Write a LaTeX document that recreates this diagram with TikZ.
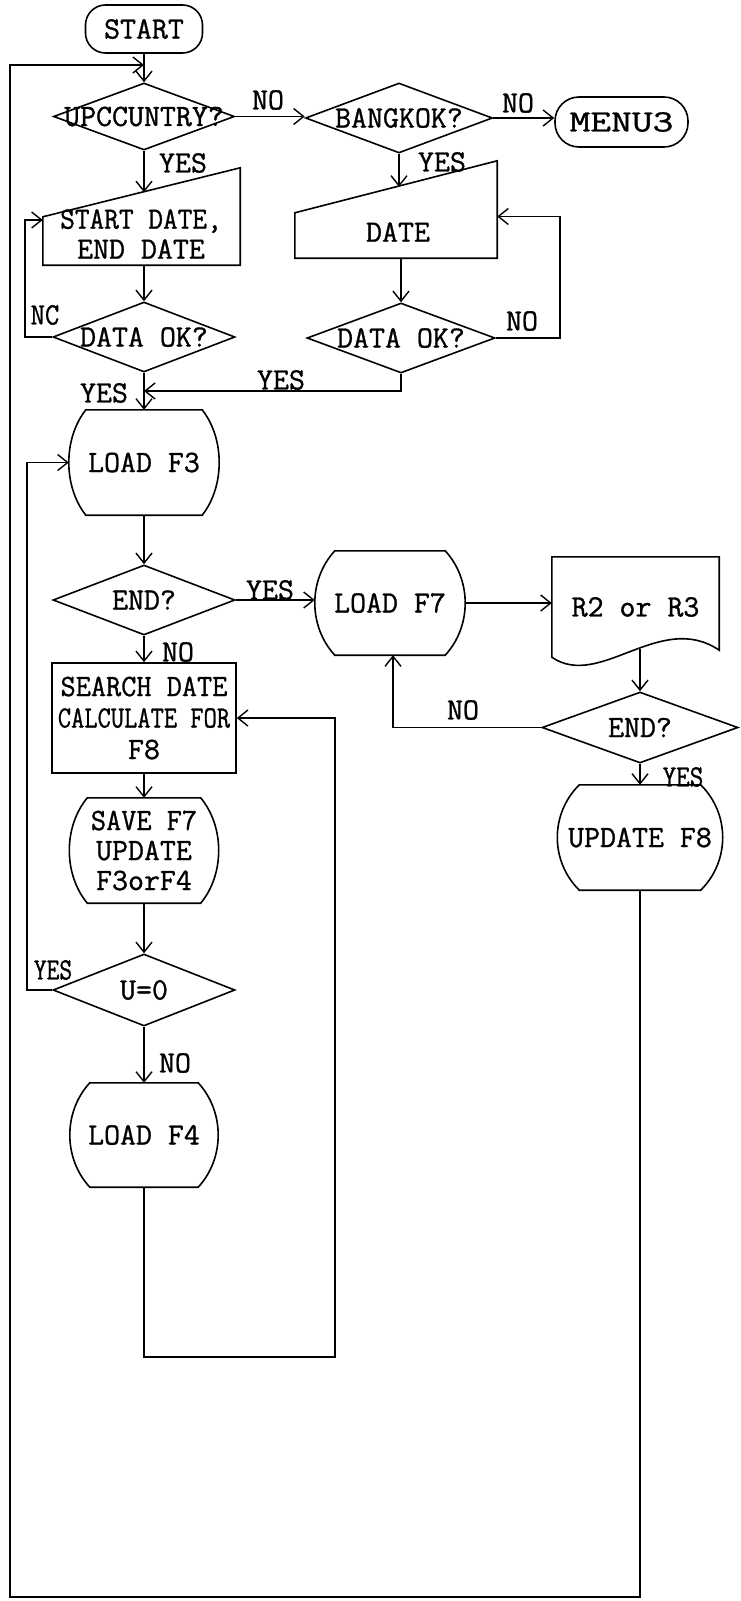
\documentclass[tikz,border=0pt]{standalone}
\usepackage{fontspec}
\newfontfamily\twfont{lmmono12-regular.otf}[FakeBold=1.0]
\usetikzlibrary{arrows.meta,shapes.geometric,calc}
\newcommand{\barrelshape}[3]{%
  \draw[ln] ([xshift=#2pt]#1.north west) -- ([xshift=-#2pt]#1.north east)
    .. controls +({4*#2/3},#3) and +({4*#2/3},-#3) .. ([xshift=-#2pt]#1.south east)
    -- ([xshift=#2pt]#1.south west)
    .. controls +({-4*#2/3},-#3) and +({-4*#2/3},#3) .. ([xshift=#2pt]#1.north west) -- cycle;}
\newcommand{\maninshape}[2]{%
  \draw[ln] (#1.south west) -- (#1.south east) -- (#1.north east) -- ([yshift=-#2pt]#1.north west) -- cycle;}
\begin{document}
\begin{tikzpicture}[x=1pt,y=-1pt,
  font=\twfont\fontsize{31}{30}\selectfont,
  ln/.style={draw=black,line width=1.6pt},
  arr/.style={ln,-{Straight Barb[length=10pt,width=16pt,line width=1.4pt]}},
  dia/.style={shape=diamond,ln,inner sep=0pt},
  term/.style={ln,rounded corners=20pt,inner sep=0pt},
  box/.style={ln,inner sep=0pt,align=center},
  ghost/.style={inner sep=0pt,align=center},
  lbl/.style={inner sep=0pt,align=center}]
\useasboundingbox (0,0) rectangle (741,1601);
\fill[white] (0,0) rectangle (741,1601);

% ---- nodes ----
\node[term,minimum width=117pt,minimum height=48pt] (start) at (144,29) {START};
\node[dia,minimum width=181pt,minimum height=67pt,label={center:{UPCCUNTRY?}}] (ucc) at (144,116.5) {};
\node[dia,minimum width=187pt,minimum height=70pt,label={center:{BANGKOK?}}] (bkk) at (399,118) {};
\node[term,rounded corners=24pt,minimum width=133pt,minimum height=50pt] (menu) at (621.5,122) {\scalebox{1.3}[1]{MENU3}};

\node[ghost,minimum width=197pt,minimum height=97pt] (sd) at (141.5,216.5) {};
\node[lbl] (sdt) at (141,234) {\scalebox{0.92}[1]{START DATE,}\\END DATE};
\node[ghost,minimum width=202pt,minimum height=97pt] (date) at (396,209.5) {};
\node[lbl] (datet) at (398,232) {DATE};

\node[dia,minimum width=182pt,minimum height=70pt,label={center:{DATA OK?}}] (ok1) at (144,337) {};
\node[dia,minimum width=188pt,minimum height=70pt,label={center:{DATA OK?}}] (ok2) at (401,338) {};

\node[ghost,minimum width=150pt,minimum height=105pt] (lf3) at (144,462.5) {LOAD F3};
\node[dia,minimum width=182pt,minimum height=70pt,label={center:{END?}}] (end1) at (144,600) {};
\node[box,minimum width=184pt,minimum height=110pt,font=\twfont\fontsize{31}{31.5}\selectfont] (srch) at (144,718)
  {\scalebox{0.95}[1]{SEARCH DATE}\\\scalebox{0.83}[1]{CALCULATE FOR}\\F8};
\node[ghost,minimum width=149pt,minimum height=105pt] (sv) at (144,850.5) {\scalebox{0.95}[1]{SAVE F7}\\UPDATE\\F3orF4};
\node[dia,minimum width=182pt,minimum height=72pt,label={center:{U=0}}] (u0) at (144,990) {};
\node[ghost,minimum width=148pt,minimum height=104pt] (lf4) at (144,1135) {LOAD F4};

\node[ghost,minimum width=150pt,minimum height=104pt] (lf7) at (390,603) {LOAD F7};
\node[ghost,minimum width=167pt,minimum height=100pt] (r2) at (635.5,607) {R2 or R3};
\node[dia,minimum width=196pt,minimum height=71pt,label={center:{END?}}] (end2) at (640,727.5) {};
\node[ghost,minimum width=165pt,minimum height=105pt] (uf8) at (640,837.5) {UPDATE F8};

% ---- special outlines ----
\maninshape{sd}{49}
\maninshape{date}{52}
\barrelshape{lf3}{17}{29}
\barrelshape{sv}{18}{29}
\barrelshape{lf4}{20}{29}
\barrelshape{lf7}{20}{29}
\barrelshape{uf8}{22}{29}
\draw[ln] (r2.north west) -- (r2.north east) -- ([yshift=7pt]r2.south east)
  .. controls +(-59,-40) and +(48,33) .. (r2.south west) -- cycle;

% ---- coordinates ----
\coordinate (sdtop) at ($([yshift=-49pt]sd.north west)!0.5!(sd.north east)$);
\coordinate (dttop) at ($([yshift=-52pt]date.north west)!0.5!(date.north east)$);
\coordinate (j1) at (144,391);
\coordinate (r2b) at ($(end2.north |- r2.south)+(0,-8)$);
\coordinate (c1) at (335,1357);
\coordinate (bl) at (10,1597);
\coordinate (jt) at (144,65);

% ---- connectors ----
\draw[arr] (start) -- (ucc);
\draw[arr] (ucc.east) -- (ucc.east -| bkk.west);
\draw[arr] (bkk.east) -- (bkk.east -| menu.west);
\draw[arr] (ucc.south) -- (ucc.south |- sdtop);
\draw[arr] (bkk.south) -- (bkk.south |- dttop);
\draw[arr] (ok1.north |- sd.south) -- (ok1.north);
\draw[arr] (ok2.north |- date.south) -- (ok2.north);
\draw[arr] (ok1.west) -- ++(-27,0) |- ([yshift=-3.5pt]sd.west);
\draw[arr] (ok2.east) -- ++(64,0) |- ([yshift=-7pt]date.east);
\draw[arr] (ok2.south) |- (j1);
\draw[arr] (ok1.south) -- (lf3.north);
\draw[arr] (lf3) -- (end1);
\draw[arr] (end1) -- (srch);
\draw[arr] (srch) -- (sv);
\draw[arr] (sv) -- (u0);
\draw[arr] (u0) -- (lf4);
\draw[arr] (end1.east) -- (end1.east -| lf7.west);
\draw[arr] (lf7.east) -- (lf7.east -| r2.west);
\draw[arr] (r2b) -- (end2.north);
\draw[arr] (end2.west) -| ([xshift=3pt]lf7.south);
\draw[arr] (end2.south) -- (uf8.north);
\draw[arr] (u0.west) -- ++(-25,0) |- (lf3.west);
\draw[arr] (lf4.south) |- (c1) |- (srch.east);
\draw[arr] (uf8.south) |- (bl) |- (jt);

% ---- connector labels ----
\node[lbl] (l1) at (268,100) {NO};
\node[lbl] (l2) at (183,163) {YES};
\node[lbl] (l3) at (518,103) {NO};
\node[lbl] (l4) at (442,162) {YES};
\node[lbl] (l5) at (45,315) {\scalebox{0.9}[1]{NC}};
\node[lbl] (l6) at (522,321) {NO};
\node[lbl] (l7) at (281,380) {YES};
\node[lbl] (l8) at (104,393) {YES};
\node[lbl] (l9) at (270,590) {YES};
\node[lbl] (l10) at (178,652) {NO};
\node[lbl] (l11) at (463,710) {NO};
\node[lbl] (l12) at (683,777) {\scalebox{0.85}[1]{YES}};
\node[lbl] (l13) at (53,970) {\scalebox{0.8}[1]{YES}};
\node[lbl] (l14) at (175,1063) {NO};
\end{tikzpicture}
\end{document}
